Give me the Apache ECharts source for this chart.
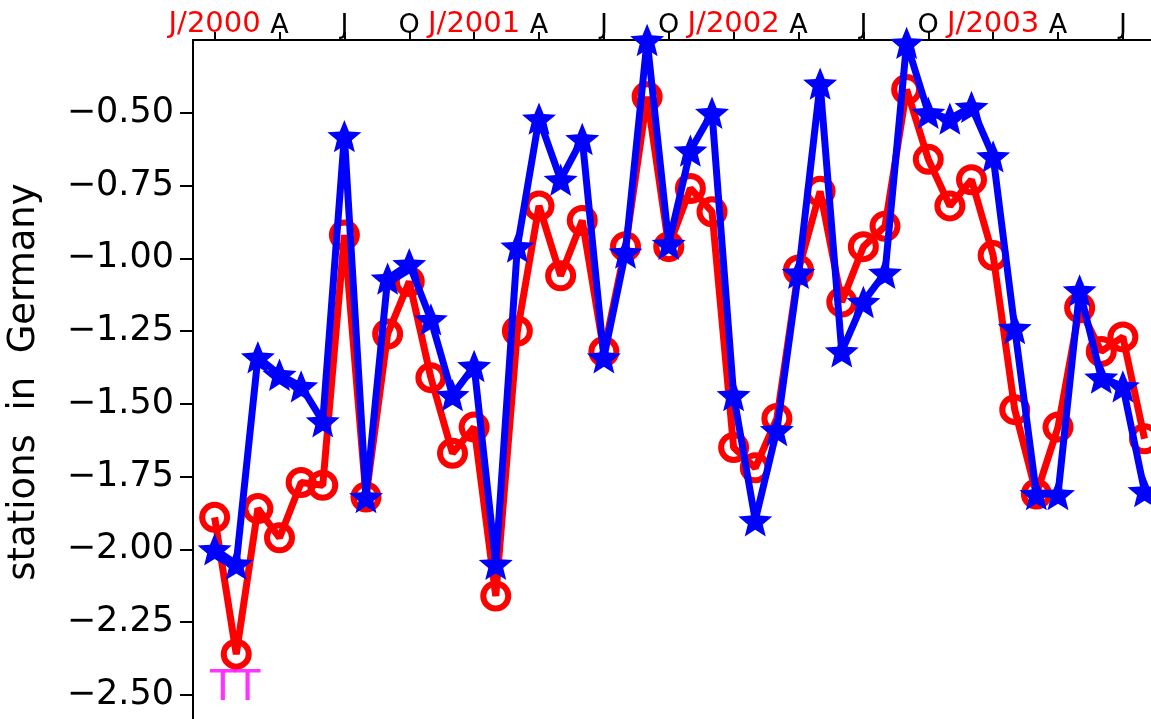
<!DOCTYPE html>
<html>
<head>
<meta charset="utf-8">
<script src="https://cdn.jsdelivr.net/npm/echarts@6/dist/echarts.min.js"></script>
<style>
html,body{margin:0;padding:0;background:#fff;}
#chart{width:1151px;height:719px;}
</style>
</head>
<body>
<div id="chart"></div>
<script>
// Month index 0 = Jan 2000
const tickMonths = [0,3,6,9,12,15,18,21,24,27,30,33,36,39,42,45];
const tickLabels = ['J/2000','A','J','O','J/2001','A','J','O','J/2002','A','J','O','J/2003','A','J','O'];
const yTicks = [-2.5,-2.25,-2.0,-1.75,-1.5,-1.25,-1.0,-0.75,-0.5];

const redValues = [
  -1.89,-2.36,-1.86,-1.96,-1.77,-1.78,-0.92,-1.82,-1.26,-1.08,-1.41,-1.67,
  -1.58,-2.16,-1.25,-0.82,-1.06,-0.87,-1.32,-0.96,-0.445,-0.96,-0.76,-0.84,
  -1.65,-1.72,-1.55,-1.04,-0.77,-1.15,-0.96,-0.89,-0.42,-0.66,-0.82,-0.73,
  -0.99,-1.52,-1.81,-1.58,-1.17,-1.32,-1.27,-1.62
];
const blueValues = [
  -2.00,-2.05,-1.34,-1.40,-1.44,-1.56,-0.58,-1.82,-1.07,-1.02,-1.21,-1.47,
  -1.37,-2.05,-0.96,-0.52,-0.73,-0.59,-1.34,-0.98,-0.25,-0.95,-0.63,-0.50,
  -1.47,-1.90,-1.59,-1.05,-0.40,-1.32,-1.15,-1.05,-0.26,-0.50,-0.52,-0.48,
  -0.65,-1.24,-1.81,-1.81,-1.11,-1.41,-1.44,-1.80
];
const annotations = [{month: 0.95, value: -2.48, text: 'TT'}];

const FONT = 'DejaVu Sans';
const STAR = 'path://M50,0L62.93,32.2L97.55,34.55L70.92,56.8L79.39,90.45L50,72L20.61,90.45L29.08,56.8L2.45,34.55L37.07,32.2Z';

const chart = echarts.init(document.getElementById('chart'), null, {renderer: 'canvas'});
const labelFor = {};
tickMonths.forEach((m, i) => { labelFor[m] = tickLabels[i]; });

chart.setOption({
  animation: false,
  backgroundColor: '#ffffff',
  grid: {left: 193, top: 40, width: 1038, height: 684, containLabel: false, outerBoundsMode: 'none'},
  xAxis: {
    type: 'value', position: 'top', min: -1, max: 47,
    axisLine: {show: true, onZero: false, lineStyle: {color: '#000', width: 2}},
    axisTick: {show: true, inside: false, length: 8, lineStyle: {color: '#000', width: 2}, customValues: tickMonths},
    axisLabel: {
      show: true, margin: 1, customValues: tickMonths,
      fontFamily: FONT, fontSize: 29,
      formatter: v => {
        const t = labelFor[Math.round(v)] || '';
        return t.indexOf('/') >= 0 ? '{r|' + t + '}' : '{b|' + t + '}';
      },
      rich: {
        r: {color: '#ff0000', fontFamily: FONT, fontSize: 29},
        b: {color: '#000000', fontFamily: FONT, fontSize: 27}
      }
    },
    splitLine: {show: false}
  },
  yAxis: {
    type: 'value', min: -2.6, max: -0.25,
    name: 'stations  in  Germany', nameLocation: 'middle', nameGap: 150,
    nameTextStyle: {fontFamily: FONT, fontSize: 37, color: '#000'},
    axisLine: {show: true, onZero: false, lineStyle: {color: '#000', width: 2}},
    axisTick: {show: true, inside: false, length: 13, lineStyle: {color: '#000', width: 2}, customValues: yTicks},
    axisLabel: {
      show: true, margin: 19, customValues: yTicks,
      fontFamily: FONT, fontSize: 35, color: '#000',
      formatter: v => v.toFixed(2).replace('-', '\u2212')
    },
    splitLine: {show: false}
  },
  series: [
    {
      type: 'line', name: 'red',
      data: redValues.map((v, i) => [i, v]),
      symbol: 'circle', symbolSize: 25,
      lineStyle: {color: '#ff0000', width: 7},
      itemStyle: {color: 'rgba(0,0,0,0)', borderColor: '#ff0000', borderWidth: 6},
      z: 2
    },
    {
      type: 'line', name: 'blue',
      data: blueValues.map((v, i) => [i, v]),
      symbol: STAR, symbolSize: 34, symbolKeepAspect: true,
      lineStyle: {color: '#0000ff', width: 7},
      itemStyle: {color: '#0000ff'},
      z: 3
    },
    {
      type: 'scatter', name: 'note',
      data: annotations.map(a => ({value: [a.month, a.value], label: {formatter: a.text}})),
      symbol: 'circle', symbolSize: 2,
      itemStyle: {color: 'rgba(255,255,255,0)'},
      label: {show: true, position: 'inside', color: '#ff00ff', fontFamily: FONT, fontSize: 42},
      z: 4
    }
  ]
});
</script>
</body>
</html>
